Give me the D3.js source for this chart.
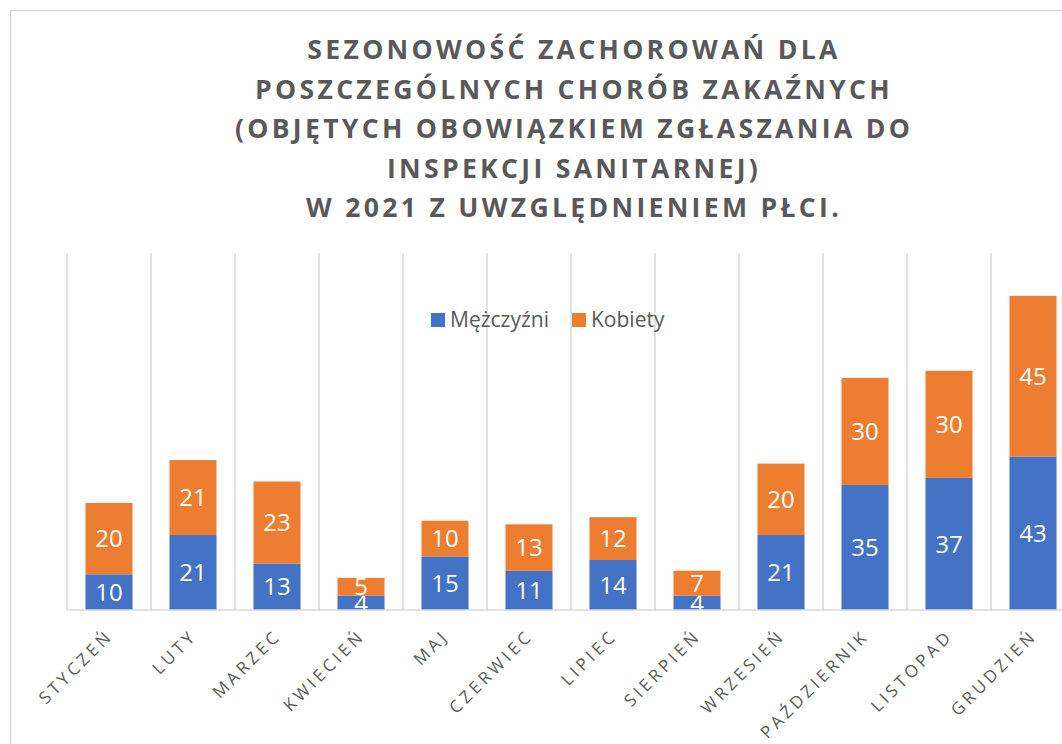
<!DOCTYPE html>
<html>
<head>
<meta charset="utf-8">
<script src="https://cdn.jsdelivr.net/npm/d3@7"></script>
<style>
  body { margin: 0; background: #fff; }
  svg { display: block; font-family: "Open Sans", sans-serif; }
</style>
</head>
<body>
<div id="figure"></div>
<script>
// data
const months = ['STYCZEŃ', 'LUTY', 'MARZEC', 'KWIECIEŃ', 'MAJ', 'CZERWIEC', 'LIPIEC', 'SIERPIEŃ', 'WRZESIEŃ', 'PAŹDZIERNIK', 'LISTOPAD', 'GRUDZIEŃ']
const men = [10, 21, 13, 4, 15, 11, 14, 4, 21, 35, 37, 43]
const women = [20, 21, 23, 5, 10, 13, 12, 7, 20, 30, 30, 45]
const seriesNames = ['Mężczyźni', 'Kobiety']
const titleLines = [
  'SEZONOWOŚĆ ZACHOROWAŃ DLA',
  'POSZCZEGÓLNYCH CHORÓB ZAKAŹNYCH',
  '(OBJĘTYCH OBOWIĄZKIEM ZGŁASZANIA DO',
  'INSPEKCJI SANITARNEJ)',
  'W 2021 Z UWZGLĘDNIENIEM PŁCI.'
]

const width = 1062
const height = 744
const colors = ['#4472c4', '#ed7d31']
const textGray = '#595959'

const svg = d3.select('#figure').append('svg').attr('width', width).attr('height', height)

// chart border (right/bottom edges fall outside the picture)
svg.append('rect').attr('x', 10.5).attr('y', 10.5).attr('width', 1100).attr('height', 800)
  .attr('fill', 'white').attr('stroke', '#d9d9d9').attr('stroke-width', 1.5)

/**
 * title
 */
const title = svg.append('g')
titleLines.forEach((t, i) => {
  title.append('text').text(t)
    .attr('x', 574).attr('y', 59 + i * 39.5)
    .attr('text-anchor', 'middle')
    .attr('font-size', 26.6).attr('font-weight', 'bold')
    .attr('letter-spacing', 3.3)
    .attr('fill', textGray)
})

/**
 * scales
 */
const plotLeft = 67, plotRight = 1075, plotTop = 253, plotBottom = 610
const xCat = d3.scaleBand().domain(months).range([plotLeft, plotRight])
const x = d3.scaleBand().domain(months).range([plotLeft, plotRight]).paddingInner(0.44).paddingOuter(0.22)
const y = d3.scaleLinear().domain([0, 100]).range([plotBottom, plotTop])

// vertical gridlines at category boundaries
const g = svg.append('g')
const bounds = months.map(m => xCat(m)).concat([plotRight])
g.selectAll('line.grid').data(bounds).enter().append('line')
  .attr('class', 'grid')
  .attr('x1', d => d).attr('x2', d => d)
  .attr('y1', plotTop).attr('y2', plotBottom)
  .attr('stroke', '#d9d9d9').attr('stroke-width', 1.5)

// stacked bars
const rows = months.map((m, i) => ({ month: m, men: men[i], women: women[i] }))
const stack = d3.stack().keys(['men', 'women'])(rows)

stack.forEach((layer, li) => {
  const lg = g.append('g')
  lg.selectAll('rect').data(layer).enter().append('rect')
    .attr('x', d => x(d.data.month))
    .attr('width', x.bandwidth())
    .attr('y', d => y(d[1]))
    .attr('height', d => y(d[0]) - y(d[1]))
    .attr('fill', colors[li])
  lg.selectAll('text').data(layer).enter().append('text')
    .text(d => d[1] - d[0])
    .attr('x', d => x(d.data.month) + x.bandwidth() / 2)
    .attr('y', d => (y(d[0]) + y(d[1])) / 2)
    .attr('dy', '0.36em')
    .attr('text-anchor', 'middle')
    .attr('font-size', 24)
    .attr('fill', 'white')
})

// category axis line
g.append('line').attr('x1', plotLeft).attr('x2', plotRight + 20)
  .attr('y1', plotBottom).attr('y2', plotBottom)
  .attr('stroke', '#d9d9d9').attr('stroke-width', 1.5)

// category labels
g.selectAll('text.cat').data(months).enter().append('text')
  .attr('class', 'cat')
  .text(d => d)
  .attr('transform', d => `translate(${xCat(d) + xCat.bandwidth() / 2 + 5},${plotBottom + 27}) rotate(-45)`)
  .attr('text-anchor', 'end')
  .attr('font-size', 17)
  .attr('letter-spacing', 3.6)
  .attr('fill', textGray)

/**
 * legend
 */
const legend = svg.append('g')
const legendX = [431, 572]
seriesNames.forEach((name, i) => {
  legend.append('rect').attr('x', legendX[i]).attr('y', 313).attr('width', 14).attr('height', 14).attr('fill', colors[i])
  legend.append('text').text(name).attr('x', legendX[i] + 19).attr('y', 327)
    .attr('font-size', 21).attr('fill', textGray)
})
</script>
</body>
</html>
